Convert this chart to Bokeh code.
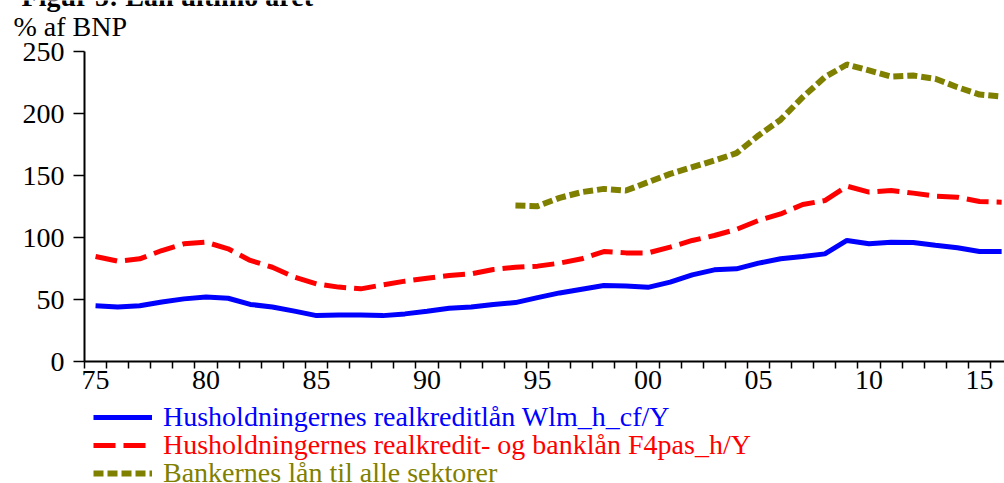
import numpy as np
from bokeh.plotting import figure
from bokeh.layouts import column
from bokeh.models import (FixedTicker, Legend, LegendItem, Label, Range1d,
                          ColumnDataSource)
from bokeh.embed import file_html
from bokeh.resources import INLINE

# Loans at year end, % of GDP
years = list(range(1975, 2017))
mortgage_hh = [45, 44, 45, 48, 50.5, 52, 51, 46, 44, 40.6, 37, 37.5, 37.5, 37,
               38.4, 40.6, 43, 44, 46, 47.5, 51.5, 55.3, 58.3, 61.3, 60.8, 59.8,
               64, 69.9, 73.9, 74.7, 79.3, 82.8, 84.7, 86.8, 97.6, 94.9, 96.2,
               96, 93.8, 91.7, 88.7, 88.7]
mortgage_bank_hh = [84.7, 80.9, 82.8, 89.5, 94.9, 96.2, 90.9, 81.5, 76, 68, 62.6,
                    60, 58.6, 61.8, 64.8, 67.2, 69.4, 70.7, 74.2, 76, 76.9, 79.3,
                    82.8, 88.7, 87.6, 87.6, 92.2, 97.6, 101.6, 106.5, 113.7, 119,
                    126.6, 129.8, 141.4, 136.6, 137.9, 135.8, 133.3, 132.5, 129,
                    128.5]
bank_years = list(range(1994, 2017))
bank_all = [125.8, 125.3, 132, 136.6, 139.2, 137.9, 144.6, 151.3, 156.7, 162.1,
            168, 182.3, 195, 213.2, 229.3, 239.5, 234.7, 229.8, 230.6, 228,
            221.2, 215.3, 213.7]

label_years = [1975, 1980, 1985, 1990, 1995, 2000, 2005, 2010, 2015]
label_texts = ["75", "80", "85", "90", "95", "00", "05", "10", "15"]
y_ticks = [0, 50, 100, 150, 200, 250]

title_text = "Figur 5: Lån ultimo året"
unit_text = "% af BNP"
series_names = ["Husholdningernes realkreditlån Wlm_h_cf/Y",
                "Husholdningernes realkredit- og banklån F4pas_h/Y",
                "Bankernes lån til alle sektorer"]
series_colors = ["#0000FF", "#FF0000", "#808000"]
series_dash = ["solid", "22 8", "10 4"]
series_width = [5, 5, 6]

FONT = "Liberation Serif"
W = 1004


def bare_figure(height):
    """A figure with no axes whose frame fills the whole canvas,
    with data coordinates equal to pixel positions (y down)."""
    f = figure(width=W, height=height, output_backend="svg",
               toolbar_location=None, x_axis_type=None, y_axis_type=None,
               x_range=Range1d(0, W), y_range=Range1d(height, 0),
               min_border=0, frame_align=False)
    f.outline_line_color = None
    f.xgrid.visible = False
    f.ygrid.visible = False
    return f


# heading: figure title (running off the top edge) and unit
head = bare_figure(36)
head.add_layout(Label(x=313, y=-4, text=title_text, text_align="right",
                      text_baseline="alphabetic", text_font=FONT,
                      text_font_size="28px", text_font_style="bold",
                      text_color="black"))
head.add_layout(Label(x=13, y=26, text=unit_text, text_align="left",
                      text_baseline="alphabetic", text_font=FONT,
                      text_font_size="28px", text_color="black"))

# main chart
p = figure(width=W, height=367, output_backend="svg", toolbar_location=None,
           x_range=Range1d(1974.5, 2016.13), y_range=Range1d(0, 250),
           min_border_left=84, min_border_right=0, min_border_top=15,
           min_border_bottom=42, frame_align=False)
p.outline_line_color = None
p.xgrid.visible = False
p.ygrid.visible = False

src_hh = ColumnDataSource(dict(x=years, a=mortgage_hh, b=mortgage_bank_hh))
src_bank = ColumnDataSource(dict(x=bank_years, c=bank_all))

p.line("x", "a", source=src_hh, line_color=series_colors[0],
       line_width=series_width[0], line_dash=series_dash[0])
p.line("x", "b", source=src_hh, line_color=series_colors[1],
       line_width=series_width[1], line_dash=series_dash[1])
p.line("x", "c", source=src_bank, line_color=series_colors[2],
       line_width=series_width[2], line_dash=series_dash[2])

# x axis: year boundaries as small ticks, two-digit labels at mid-year
xa = p.xaxis[0]
xa.ticker = FixedTicker(ticks=label_years,
                        minor_ticks=[y - 0.5 for y in years] + [years[-1] + 0.5])
xa.major_label_overrides = {y: t for y, t in zip(label_years, label_texts)}
xa.major_tick_line_color = None
xa.major_tick_out = 0
xa.major_tick_in = 0
xa.minor_tick_out = 7
xa.minor_tick_in = 0
xa.minor_tick_line_width = 1.5
xa.minor_tick_line_color = "black"
xa.axis_line_width = 2
xa.major_label_standoff = 2
xa.major_label_text_font = FONT
xa.major_label_text_font_size = "28px"
xa.major_label_text_color = "black"

ya = p.yaxis[0]
ya.ticker = FixedTicker(ticks=y_ticks, minor_ticks=[])
ya.major_tick_out = 11
ya.major_tick_in = 0
ya.major_tick_line_width = 1.5
ya.axis_line_width = 2
ya.major_label_standoff = 9
ya.major_label_text_font = FONT
ya.major_label_text_font_size = "28px"
ya.major_label_text_color = "black"

# legend block below the chart, one legend per series so each label
# is written in its line's colour; the sample lines hold no visible points
foot = bare_figure(80)
row_bottoms = [50.5, 22.5, -6]
for name, col, dash, lw, yb in zip(series_names, series_colors, series_dash,
                                   series_width, row_bottoms):
    r = foot.line(x=np.array([np.nan]), y=np.array([np.nan]), line_color=col,
                  line_dash=dash, line_width=lw)
    lg = Legend(items=[LegendItem(label=name, renderers=[r])],
                location=(93, yb), orientation="vertical",
                glyph_width=59, glyph_height=32, label_height=32,
                label_standoff=11, padding=0, margin=0, spacing=0,
                border_line_color=None, background_fill_alpha=0,
                label_text_font=FONT, label_text_font_size="28px",
                label_text_color=col)
    foot.add_layout(lg)

page = column(head, p, foot, spacing=0)
open("out.html", "w").write(file_html(page, INLINE))
